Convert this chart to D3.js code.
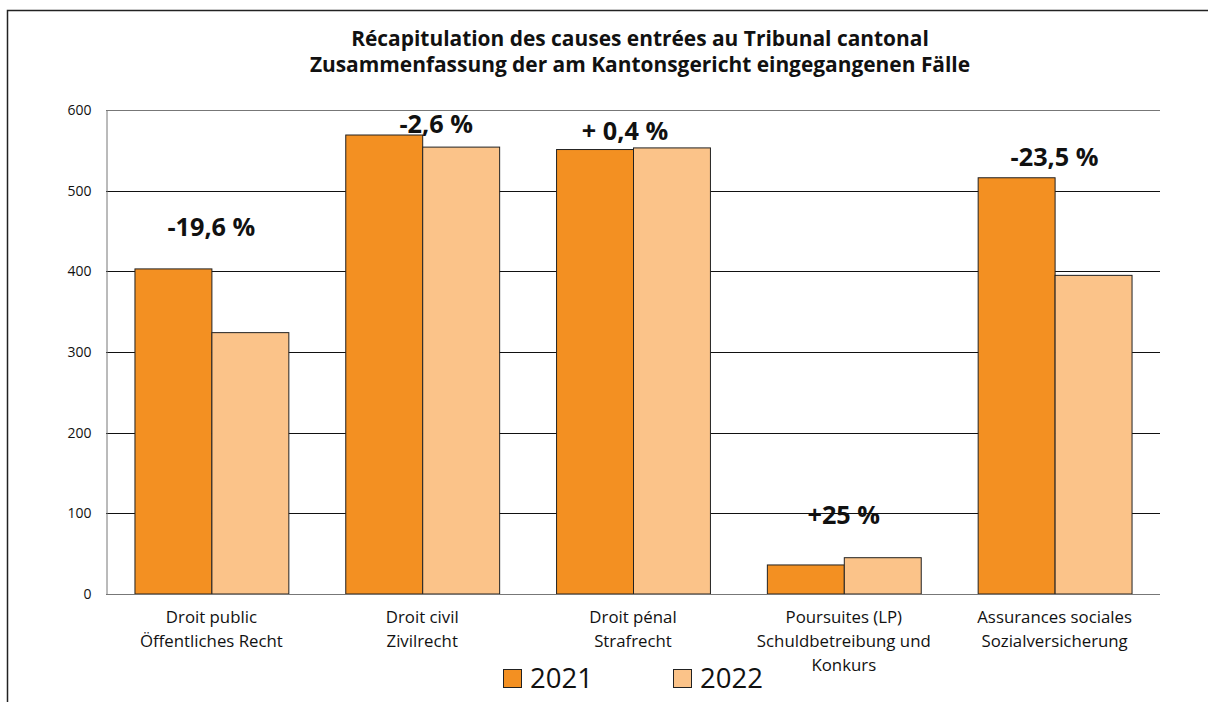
<!DOCTYPE html>
<html><head><meta charset="utf-8">
<script src="https://cdn.jsdelivr.net/npm/d3@7"></script>
<style>
html,body{margin:0;padding:0;background:#fff;}
svg{display:block;font-family:"Open Sans",sans-serif;}
</style></head>
<body>
<svg id="c" width="1208" height="702"></svg>
<script>
const categories = [
  ["Droit public","Öffentliches Recht"],
  ["Droit civil","Zivilrecht"],
  ["Droit pénal","Strafrecht"],
  ["Poursuites (LP)","Schuldbetreibung und","Konkurs"],
  ["Assurances sociales","Sozialversicherung"]
];
const seriesNames = ["2021","2022"];
const values2021 = [403, 569, 551, 36, 516];
const values2022 = [324, 554, 553, 45, 395];
const changeLabels = ["-19,6 %","-2,6 %","+ 0,4 %","+25 %","-23,5 %"];
const yTicks = [0,100,200,300,400,500,600];
const titleLines = ["Récapitulation des causes entrées au Tribunal cantonal","Zusammenfassung der am Kantonsgericht eingegangenen Fälle"];
const colors = ["#F39022","#FBC389"];

const FONT = "'Open Sans',sans-serif";
const svg = d3.select("#c");
const m = {left:106, right:1160, top:110, bottom:594};

// fit a font size so that a sample string has a target width
function fitSize(sample, target, weight, base){
  const t = svg.append("text").attr("font-family",FONT).attr("font-size",base)
    .attr("font-weight",weight).text(sample);
  const w = t.node().getComputedTextLength();
  t.remove();
  return base*target/w;
}
const titleSize = fitSize(titleLines[0], 578, "bold", 18);
const catSize = fitSize("Öffentliches Recht", 143, "normal", 14);
const chgSize = fitSize("-19,6 %", 88, "bold", 22);
const tickSize = fitSize("600", 24, "normal", 12);
const legSize = fitSize("2021", 63, "normal", 24);

// outer frame
svg.append("path").attr("d","M7.5,702 L7.5,10.5 L1208,10.5")
  .attr("fill","none").attr("stroke","#222").attr("stroke-width",1.5);

const x0 = d3.scaleBand().domain(d3.range(categories.length)).range([m.left,m.right]).paddingInner(0.27).paddingOuter(0.135);
const x1 = d3.scaleBand().domain([0,1]).range([0,x0.bandwidth()]);
const y = d3.scaleLinear().domain([0,600]).range([m.bottom,m.top]);

// gridlines
svg.append("g").selectAll("line").data(yTicks.filter(d=>d>0)).join("line")
  .attr("x1",m.left).attr("x2",m.right)
  .attr("y1",d=>Math.round(y(d))+0.5).attr("y2",d=>Math.round(y(d))+0.5)
  .attr("stroke",d=>d===600?"#777":"#111").attr("stroke-width",1);

// y axis
const yAxis = d3.axisLeft(y).tickValues(yTicks).tickSize(0).tickPadding(15);
const ga = svg.append("g").attr("transform",`translate(${m.left+0.5},0)`).call(yAxis);
ga.select(".domain").attr("stroke","#777");
ga.selectAll("text").attr("font-size",tickSize).attr("fill","#111").attr("font-family",FONT);

// bars
const series = [values2021, values2022];
series.forEach((vals,si)=>{
  svg.append("g").selectAll("rect").data(vals).join("rect")
    .attr("x",(d,i)=>x0(i)+x1(si)+0.5)
    .attr("y",d=>y(d))
    .attr("width",x1.bandwidth())
    .attr("height",d=>y(0)-y(d))
    .attr("fill",colors[si]).attr("stroke","#222").attr("stroke-width",1);
});

// x axis line
svg.append("line").attr("x1",m.left).attr("x2",m.right)
  .attr("y1",m.bottom+0.5).attr("y2",m.bottom+0.5).attr("stroke","#777");

// category labels
const cl = svg.append("g").selectAll("text").data(categories).join("text")
  .attr("text-anchor","middle").attr("font-size",catSize).attr("fill","#111")
  .attr("x",(d,i)=>x0(i)+x0.bandwidth()/2);
cl.selectAll("tspan").data(d=>d).join("tspan")
  .attr("x",function(){return this.parentNode.getAttribute("x");})
  .attr("y",(d,j)=>623+j*24).text(d=>d);

// change labels
const labelY = [236,133,140,524,166];
const labelDx = [0,14,-8,0,0];
svg.append("g").selectAll("text").data(changeLabels).join("text")
  .attr("text-anchor","middle").attr("font-size",chgSize).attr("font-weight","bold").attr("fill","#111")
  .attr("x",(d,i)=>x0(i)+x0.bandwidth()/2 + labelDx[i])
  .attr("y",(d,i)=>labelY[i])
  .text(d=>d);

// title
svg.append("g").selectAll("text").data(titleLines).join("text")
  .attr("x",640).attr("y",(d,i)=>46+i*26).attr("text-anchor","middle")
  .attr("font-size",titleSize).attr("font-weight","bold").attr("fill","#111").text(d=>d);

// legend
const lg = svg.append("g");
const legX = [503, 673];
seriesNames.forEach((s,i)=>{
  lg.append("rect").attr("x",legX[i]+0.5).attr("y",669.5).attr("width",18).attr("height",18)
    .attr("fill",colors[i]).attr("stroke","#222");
  lg.append("text").attr("x",legX[i]+27).attr("y",688).attr("font-size",legSize).attr("fill","#111").text(s);
});
</script>
</body></html>
